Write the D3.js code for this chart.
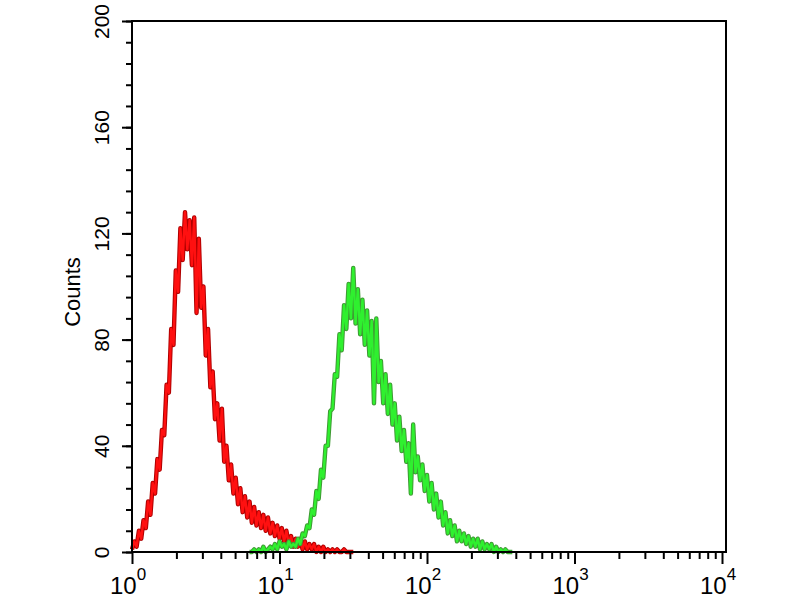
<!DOCTYPE html>
<html>
<head>
<meta charset="utf-8">
<script src="https://cdn.jsdelivr.net/npm/d3@7"></script>
<style>
    body { margin: 0; background: #fff; }
    svg { display: block; background: #fff; }
    text { font-family: "Liberation Sans", Arial, sans-serif; fill: #000; }
</style>
</head>
<body>
<svg id="chart" width="800" height="600"></svg>
<script>
// histogram channels: 256 per decade, every 4th channel kept
const channelsPerDecade = 256;
const channelStep = 4;

const redStartChannel = 0;
const redCounts = [
    1, 4, 2, 8, 5, 12, 9, 19, 14, 26,
    22, 35, 31, 46, 44, 63, 60, 84, 78, 106,
    98, 122, 110, 128, 114, 125, 108, 126, 90, 118,
    92, 100, 74, 84, 62, 68, 50, 56, 42, 54,
    34, 40, 27, 33, 22, 28, 18, 24, 15, 21,
    13, 19, 11, 17, 10, 15, 9, 14, 8, 13,
    7, 11, 6, 10, 5, 9, 4, 8, 3, 6,
    2, 5, 2, 5, 1, 4, 1, 3, 1, 3,
    0, 2, 0, 2, 0, 1, 0, 1, 0, 1,
    0, 0, 1, 0, 0, 0, 0
];

const greenStartChannel = 204;
const greenCounts = [
    0, 0, 1, 0, 1, 0, 2, 0, 1, 2,
    1, 3, 1, 4, 2, 3, 1, 4, 2, 3,
    2, 5, 3, 7, 6, 10, 9, 16, 14, 23,
    20, 31, 28, 40, 40, 53, 54, 67, 66, 82,
    76, 93, 84, 101, 88, 107, 86, 99, 82, 95,
    78, 91, 74, 87, 56, 88, 64, 72, 56, 67,
    52, 63, 48, 56, 42, 51, 38, 46, 34, 41,
    22, 48, 30, 36, 27, 33, 23, 29, 19, 26,
    16, 22, 13, 19, 10, 15, 7, 12, 6, 10,
    4, 8, 4, 7, 3, 6, 2, 5, 2, 5,
    1, 4, 1, 3, 1, 3, 0, 2, 0, 1,
    0, 1, 0, 0, 0
];

const yMajorTicks = [0, 40, 80, 120, 160, 200];
const yMinorStep = 8;
const xDecades = [0, 1, 2, 3, 4];
const yLabel = "Counts";

const plotLeft = 132, plotRight = 722, frameRight = 726, plotTop = 21, plotBottom = 552;

const svg = d3.select("#chart");

const x = d3.scaleLog().domain([1, 1e4]).range([plotLeft, plotRight]);
const y = d3.scaleLinear().domain([0, 200]).range([plotBottom, plotTop]);

function toPoints(start, counts) {
    return counts.map((c, i) => ({
        v: Math.pow(10, (start + i * channelStep) / channelsPerDecade),
        c: c
    }));
}

const line = d3.line().x(d => x(d.v)).y(d => y(d.c));

const series = [
    { pts: toPoints(redStartChannel, redCounts), dark: "#b00000", bright: "#ff1010" },
    { pts: toPoints(greenStartChannel, greenCounts), dark: "#3f9a34", bright: "#2ff02f" }
];

const curves = svg.append("g");
series.forEach(s => {
    curves.append("path").datum(s.pts).attr("d", line)
        .attr("fill", "none").attr("stroke", s.dark)
        .attr("stroke-width", 4.4).attr("stroke-linejoin", "round");
    curves.append("path").datum(s.pts).attr("d", line)
        .attr("fill", "none").attr("stroke", s.bright)
        .attr("stroke-width", 2.4).attr("stroke-linejoin", "round");
});

// y axis: minor ticks every 8, longer major ticks with rotated labels
svg.append("g").attr("transform", `translate(${plotLeft},0)`)
    .call(d3.axisLeft(y).tickValues(d3.range(0, 201, yMinorStep)).tickSize(6).tickFormat(""))
    .call(g => g.select(".domain").remove())
    .call(g => g.selectAll("line").attr("stroke", "#000").attr("stroke-width", 2));

svg.append("g").attr("transform", `translate(${plotLeft},0)`)
    .call(d3.axisLeft(y).tickValues(yMajorTicks).tickSize(10))
    .call(g => g.select(".domain").remove())
    .call(g => g.selectAll("line").attr("stroke", "#000").attr("stroke-width", 2))
    .call(g => g.selectAll("text")
        .attr("transform", "rotate(-90)")
        .attr("x", 0).attr("y", -23).attr("dy", 0)
        .attr("text-anchor", "middle")
        .attr("fill", "#000")
        .style("font-size", "21px")
        .style("font-family", "'Liberation Sans', Arial, sans-serif"));

// x axis: minor ticks 2..9 of each decade, major at decades
const minorX = [];
xDecades.slice(0, -1).forEach(d => {
    for (let k = 2; k <= 9; k++) minorX.push(k * Math.pow(10, d));
});

svg.append("g").attr("transform", `translate(0,${plotBottom})`)
    .call(d3.axisBottom(x).tickValues(minorX).tickSize(7).tickFormat(""))
    .call(g => g.select(".domain").remove())
    .call(g => g.selectAll("line").attr("stroke", "#000").attr("stroke-width", 2));

svg.append("g").attr("transform", `translate(0,${plotBottom})`)
    .call(d3.axisBottom(x).tickValues(xDecades.map(d => Math.pow(10, d))).tickSize(12).tickFormat(""))
    .call(g => g.select(".domain").remove())
    .call(g => g.selectAll("line").attr("stroke", "#000").attr("stroke-width", 2));

const xLabels = svg.append("g").selectAll("text")
    .data(xDecades)
    .join("text")
    .attr("x", d => x(Math.pow(10, d)) - 22)
    .attr("y", 594)
    .style("font-size", "24px");
xLabels.append("tspan").text("10");
xLabels.append("tspan").attr("dy", -14).style("font-size", "17px").text(d => d);

// frame
svg.append("path")
    .attr("d", `M${plotLeft},${plotBottom}V${plotTop}H${frameRight}V${plotBottom}H${plotLeft}`)
    .attr("fill", "none").attr("stroke", "#000").attr("stroke-width", 2);

svg.append("text")
    .attr("transform", `translate(80,292) rotate(-90)`)
    .attr("text-anchor", "middle")
    .style("font-size", "22px")
    .text(yLabel);
</script>
</body>
</html>
